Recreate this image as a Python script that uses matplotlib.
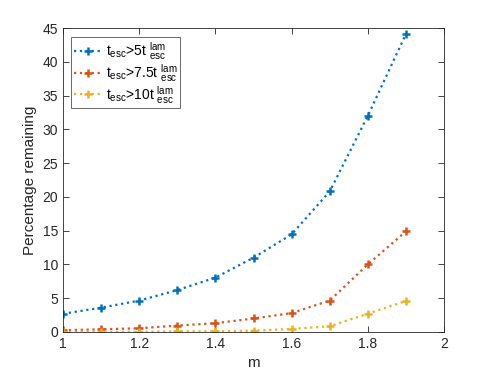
import matplotlib
matplotlib.use("Agg")
import matplotlib.pyplot as plt

m = [1.0, 1.1, 1.2, 1.3, 1.4, 1.5, 1.6, 1.7, 1.8, 1.9]
pct_5 = [2.7, 3.6, 4.65, 6.2, 8.05, 11.0, 14.45, 20.8, 32.0, 44.1]
pct_75 = [0.25, 0.4, 0.55, 0.95, 1.3, 2.0, 2.8, 4.65, 10.0, 14.9]
pct_10 = [0.02, 0.02, 0.03, 0.1, 0.1, 0.2, 0.45, 0.85, 2.7, 4.6]
labels = [r'$\mathrm{t_{esc}}$>5t$\mathrm{\;{}^{lam}_{esc}}$',
          r'$\mathrm{t_{esc}}$>7.5t$\mathrm{\;{}^{lam}_{esc}}$',
          r'$\mathrm{t_{esc}}$>10t$\mathrm{\;{}^{lam}_{esc}}$']
colors = ['#0072BD', '#D95319', '#EDB120']

plt.rcParams['font.family'] = ['Liberation Sans', 'DejaVu Sans']
plt.rcParams['mathtext.fontset'] = 'custom'
plt.rcParams['mathtext.rm'] = 'Liberation Sans'

fig = plt.figure(figsize=(4.91, 3.74), dpi=100)
ax = fig.add_axes([0.1283, 0.1123, 0.776, 0.8128])

for ys, c, lab in zip([pct_5, pct_75, pct_10], colors, labels):
    ax.plot(m, ys, linestyle=':', color=c, linewidth=1.6, marker='+',
            markersize=6, markeredgewidth=1.8, label=lab)

ax.set_xlim(1, 2)
ax.set_ylim(0, 45)
ax.set_xticks([1, 1.2, 1.4, 1.6, 1.8, 2])
ax.set_xticklabels(['1', '1.2', '1.4', '1.6', '1.8', '2'])
ax.set_yticks(range(0, 46, 5))
ax.tick_params(direction='in', top=True, right=True, labelsize=10,
               colors='#262626', length=4, width=0.6)
for s in ax.spines.values():
    s.set_color('#262626')
    s.set_linewidth(0.6)
ax.set_xlabel('m', fontsize=11, color='#262626')
ax.set_ylabel('Percentage remaining', fontsize=11, color='#262626')

leg = ax.legend(loc='upper left', bbox_to_anchor=(0.021, 0.970), fontsize=10,
                fancybox=False, edgecolor='#262626', handlelength=2.0,
                handletextpad=0.3, borderaxespad=0, borderpad=0.2,
                labelspacing=0.0)
leg.get_frame().set_linewidth(0.6)

fig.savefig('out.png', dpi=100)
